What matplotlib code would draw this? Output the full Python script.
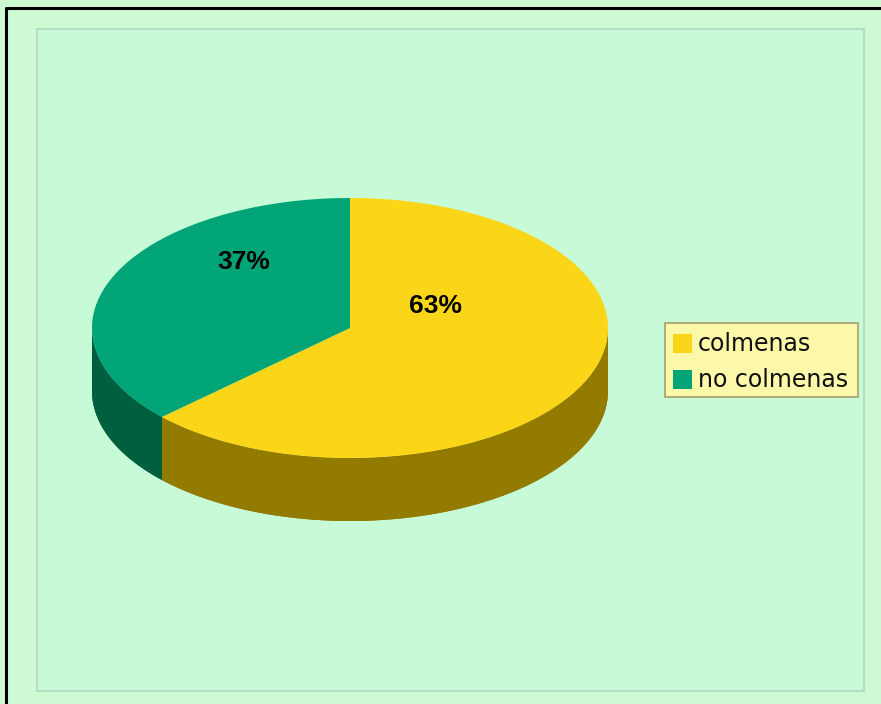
import numpy as np
import matplotlib.pyplot as plt
from matplotlib.patches import Polygon, Rectangle

# data
labels = ["colmenas", "no colmenas"]
values = [63, 37]
top_colors = ["#FBD618", "#00A476"]
side_colors = ["#937B00", "#005F3F"]

# layout (pixels)
W, H = 881, 704
cx, cy = 350, 328
rx, ry = 258, 130
depth = 63
label_pos = [(436, 306), (244, 262)]

fig = plt.figure(figsize=(W / 100, H / 100), dpi=100)
fig.patch.set_facecolor("#CDF9D3")
ax = fig.add_axes([0, 0, 1, 1])
ax.set_xlim(0, W)
ax.set_ylim(H, 0)
ax.axis("off")

# frame lines and inner plot area
ax.plot([6, 6, W], [H, 8, 8], color="black", lw=2.2, solid_capstyle="butt")
ax.add_patch(Rectangle((37, 29), 827, 662, facecolor="#C7FAD6",
                       edgecolor="#B3D6BD", lw=1.2))


def pt(theta, dy=0.0):
    return cx + rx * np.cos(theta), cy - ry * np.sin(theta) + dy


def side(lo, hi, col):
    t = np.linspace(lo, hi, 200)
    x, y = pt(t)
    xb, yb = pt(t[::-1], depth)
    ax.add_patch(Polygon(np.column_stack([np.r_[x, xb], np.r_[y, yb]]),
                         closed=True, facecolor=col, edgecolor="none"))


# wedge angles: start at 12 o'clock, clockwise
fracs = np.array(values) / sum(values)
ends = np.pi / 2 - 2 * np.pi * np.cumsum(fracs)
starts = np.concatenate([[np.pi / 2], ends[:-1]])

# sides (only the front half, angles -pi..0, is visible)
for s, e, col in zip(starts, ends, side_colors):
    lo, hi = max(e, -np.pi), min(s, 0)
    if hi > lo:
        side(lo, hi, col)
    lo, hi = max(e + 2 * np.pi, np.pi), min(s + 2 * np.pi, 2 * np.pi)
    if hi > lo:
        side(lo, hi, col)

# top faces
for s, e, col in zip(starts, ends, top_colors):
    t = np.linspace(s, e, 300)
    x, y = pt(t)
    ax.add_patch(Polygon(np.column_stack([np.r_[cx, x], np.r_[cy, y]]),
                         closed=True, facecolor=col, edgecolor="none"))

# percent labels
for (lx, ly), v in zip(label_pos, values):
    ax.text(lx, ly, f"{v}%", fontsize=19, fontweight="bold",
            family="Liberation Sans", ha="center", va="center")

# legend
ax.add_patch(Rectangle((665, 323), 193, 74, facecolor="#FBF8A9",
                       edgecolor="#A8A878", lw=1.3))
for i, (lab, col) in enumerate(zip(labels, top_colors)):
    yy = 343 + i * 36
    ax.add_patch(Rectangle((673, yy - 9), 19, 19, facecolor=col, edgecolor="none"))
    ax.text(698, yy + 1, lab, fontsize=17, va="center", ha="left", color="#111111")

fig.savefig("out.png", dpi=100, facecolor=fig.get_facecolor())
